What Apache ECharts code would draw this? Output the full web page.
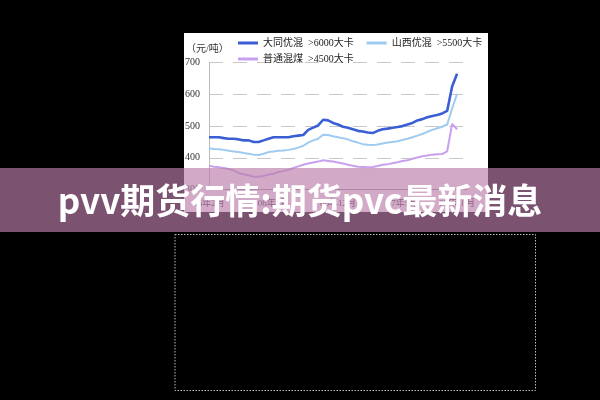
<!DOCTYPE html>
<html>
<head>
<meta charset="utf-8">
<script src="https://cdn.jsdelivr.net/npm/echarts@6/dist/echarts.min.js"></script>
<style>
html,body{margin:0;padding:0;background:#000;}
#c{width:600px;height:400px;}
</style>
</head>
<body>
<div id="c"></div>
<script>
// ---- data ----
var categories = ["06年2月","","","","","","","","","","","","","06年7月","","","","","","","","","","","","","06年12月","","","","","","","","","","","","","07年5月","","","","","","","","","","","07年10月","",""];
var datongValues = [465,465,465,462,460,460,458,455,455,450,450,455,460,465,465,465,465,468,470,472,488,495,502,520,518,510,505,498,495,490,485,483,480,478,485,490,492,495,497,500,505,510,518,522,528,532,535,540,548,625,665];
var shanxiValues = [430,428,427,425,422,420,418,415,413,410,409,413,418,420,422,423,425,428,432,438,448,455,460,473,472,468,465,462,458,452,448,443,441,440,442,445,448,450,452,456,460,465,470,475,482,488,493,498,505,555,602];
var putongValues = [375,372,370,368,365,360,352,348,345,340,340,343,347,350,355,358,362,368,373,378,382,385,388,392,390,388,385,382,378,375,372,371,370,371,374,378,380,383,386,390,392,397,401,405,407,410,411,412,420,507,490];
var seriesNames = ["大同优混  >6000大卡","山西优混  >5500大卡","普通混煤  >4500大卡"];
var yTicks = {min:300, max:700, interval:100};
var unitLabel = "（元/吨）";
var bannerText = "pvv期货行情:期货pvc最新消息";

var chart = echarts.init(document.getElementById('c'), null, {renderer:'canvas'});
var serifFont = "'Liberation Serif','Noto Sans CJK SC',serif";
var colors = ['#3a5ed4','#9fcbf0','#c9a0ee'];

var option = {
  backgroundColor: '#000',
  animation: false,
  color: colors,
  grid: {left: 209, right: 133, top: 62.7, bottom: 210.5},
  legend: [
    {data:[seriesNames[0], seriesNames[1]], left: 238, top: 38, itemWidth: 20, itemHeight: 3, itemGap: 13, icon: 'rect',
     textStyle:{fontSize:10, color:'#222', fontFamily: serifFont}, padding: 0, z: 10},
    {data:[seriesNames[2]], left: 238, top: 54, itemWidth: 20, itemHeight: 3, icon: 'rect',
     textStyle:{fontSize:10, color:'#222', fontFamily: serifFont}, padding: 0, z: 10}
  ],
  xAxis: {
    type: 'category', data: categories, boundaryGap: false,
    axisLine: {show: true, lineStyle:{color:'#999', width:1}},
    axisTick: {show: false},
    axisLabel: {interval: function(i, v){ return v !== ''; }, fontSize: 9, color: '#333', fontFamily: serifFont, margin: 10}
  },
  yAxis: {
    type: 'value', min: yTicks.min, max: yTicks.max, interval: yTicks.interval,
    axisLine: {show: true, lineStyle:{color:'#bbb', width:1}},
    axisTick: {show: false},
    axisLabel: {fontSize: 10, color: '#333', fontFamily: serifFont, margin: 9},
    splitLine: {show: true, lineStyle:{color:'#c8c8c8', type:[14,10], width:1}}
  },
  series: [
    {name: seriesNames[0], type:'line', data: datongValues, showSymbol:false, lineStyle:{width:2.6, color: colors[0]}, z: 4},
    {name: seriesNames[1], type:'line', data: shanxiValues, showSymbol:false, lineStyle:{width:2, color: colors[1]}, z: 3},
    {name: seriesNames[2], type:'line', data: putongValues, showSymbol:false, lineStyle:{width:2, color: colors[2]}, z: 3}
  ],
  graphic: [
    {type:'rect', z: -10, silent:true, shape:{x:184, y:33, width:304, height:179}, style:{fill:'#fff'}},
    {type:'text', z: 5, left: 186, top: 44, style:{text: unitLabel, font: "10px " + serifFont, fill:'#333'}},
    {type:'rect', z: 50, silent:true, shape:{x:175, y:234.5, width:360.5, height:156}, style:{fill:'none', stroke:'#bbb', lineWidth:1, lineDash:[1.5,1.5]}},
    {type:'rect', z: 60, silent:true, shape:{x:0, y:168, width:600, height:64}, style:{fill:'rgba(186,126,170,0.66)'}},
    {type:'text', z: 61, x: 300, y: 201, style:{text: bannerText, font: "bold 35px 'Noto Sans CJK SC', sans-serif", fill:'#fff', align:'center', verticalAlign:'middle'}}
  ]
};
chart.setOption(option);
</script>
</body>
</html>
